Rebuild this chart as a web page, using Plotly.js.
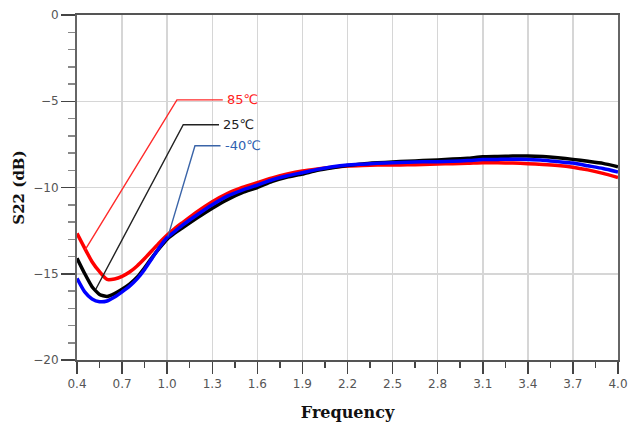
<!DOCTYPE html>
<html>
<head>
<meta charset="utf-8">
<script src="https://cdn.plot.ly/plotly-3.0.1.min.js"></script>
<style>html,body{margin:0;padding:0;background:#fff}#chart{width:632px;height:428px}</style>
</head>
<body>
<div id="chart"></div>
<script>
// Frequency points (GHz)
const freq = [0.40,0.45,0.50,0.55,0.60,0.65,0.70,0.75,0.80,0.85,0.90,0.95,1.00,1.05,1.10,1.20,1.30,1.40,1.50,1.60,1.70,1.80,1.90,2.00,2.10,2.20,2.30,2.40,2.50,2.60,2.70,2.80,2.90,3.00,3.10,3.20,3.30,3.40,3.50,3.60,3.70,3.80,3.90,4.00];
// S22 (dB) per temperature
const s22_85 = [-12.66,-13.50,-14.30,-14.88,-15.33,-15.30,-15.15,-14.90,-14.55,-14.12,-13.65,-13.18,-12.75,-12.38,-12.05,-11.40,-10.82,-10.35,-10.00,-9.72,-9.45,-9.22,-9.04,-8.92,-8.82,-8.75,-8.72,-8.70,-8.70,-8.68,-8.67,-8.64,-8.62,-8.60,-8.56,-8.57,-8.58,-8.62,-8.66,-8.72,-8.82,-8.98,-9.18,-9.42];
const s22_25 = [-14.10,-14.97,-15.75,-16.20,-16.32,-16.15,-15.90,-15.60,-15.20,-14.65,-14.05,-13.50,-13.00,-12.65,-12.35,-11.76,-11.20,-10.70,-10.30,-10.00,-9.65,-9.40,-9.22,-9.00,-8.85,-8.73,-8.63,-8.57,-8.52,-8.48,-8.44,-8.40,-8.35,-8.30,-8.22,-8.20,-8.18,-8.17,-8.20,-8.27,-8.37,-8.48,-8.60,-8.80];
const s22_m40 = [-15.27,-16.04,-16.46,-16.62,-16.58,-16.35,-16.05,-15.72,-15.30,-14.75,-14.10,-13.45,-12.90,-12.55,-12.20,-11.58,-11.00,-10.50,-10.15,-9.86,-9.55,-9.32,-9.14,-8.95,-8.80,-8.70,-8.65,-8.60,-8.56,-8.53,-8.51,-8.50,-8.48,-8.44,-8.38,-8.37,-8.36,-8.38,-8.42,-8.50,-8.58,-8.74,-8.90,-9.10];
const seriesNames = ['85℃','25℃','-40℃'];
const xTicks = [0.4,0.7,1.0,1.3,1.6,1.9,2.2,2.5,2.8,3.1,3.4,3.7,4.0];
const xTickText = ['0.4','0.7','1.0','1.3','1.6','1.9','2.2','2.5','2.8','3.1','3.4','3.7','4.0'];
const yTicks = [0,-5,-10,-15,-20];

const traces = [
  {x:freq, y:s22_85, name:seriesNames[0], mode:'lines', line:{color:'#ff0000', width:3.5, shape:'spline', smoothing:0.5}},
  {x:freq, y:s22_25, name:seriesNames[1], mode:'lines', line:{color:'#000000', width:3.5, shape:'spline', smoothing:0.5}},
  {x:freq, y:s22_m40, name:seriesNames[2], mode:'lines', line:{color:'#0000ff', width:3.5, shape:'spline', smoothing:0.5}}
];

function leader(pts, color){
  const d = 'M ' + pts.map(p => p[0] + ',' + p[1]).join(' L ');
  return {type:'path', xref:'x', yref:'y', path:d, line:{color:color, width:1.4}, layer:'above'};
}

const layout = {
  width:632, height:428,
  margin:{l:77, r:14, t:15, b:68},
  paper_bgcolor:'#ffffff', plot_bgcolor:'#ffffff',
  showlegend:false,
  font:{family:'DejaVu Sans, sans-serif', color:'#555', size:12},
  xaxis:{
    range:[0.4,4.0], tickvals:xTicks, ticktext:xTickText,
    showgrid:true, gridcolor:'#d6d6d6', gridwidth:1.5,
    showline:true, linecolor:'#555', linewidth:2, mirror:true,
    ticks:'outside', ticklen:12, tickwidth:1.5, tickcolor:'#444',
    minor:{dtick:0.3, tick0:0.55, ticks:'outside', ticklen:6, tickwidth:1.5, tickcolor:'#444', showgrid:false},
    tickfont:{family:'DejaVu Sans, sans-serif', size:12, color:'#555'},
    zeroline:false,
    title:{text:'Frequency', font:{family:'DejaVu Serif, serif', size:16, color:'#111', weight:'bold'}, standoff:16}
  },
  yaxis:{
    range:[-20,0], tickvals:yTicks,
    showgrid:true, gridcolor:'#d6d6d6', gridwidth:1.5,
    showline:true, linecolor:'#666', linewidth:2, mirror:true,
    ticks:'outside', ticklen:14, tickwidth:1.5, tickcolor:'#444',
    minor:{dtick:1, ticks:'outside', ticklen:7, tickwidth:1.5, tickcolor:'#888', showgrid:false},
    tickfont:{family:'DejaVu Sans, sans-serif', size:12, color:'#555'},
    zeroline:false,
    title:{text:'S22 (dB)', font:{family:'DejaVu Serif, serif', size:15, color:'#111', weight:'bold'}, standoff:5}
  },
  shapes:[
    leader([[0.455,-13.6],[1.065,-4.92],[1.37,-4.92]], '#ff2a2a'),
    leader([[0.525,-15.9],[1.107,-6.36],[1.345,-6.36]], '#222222'),
    leader([[1.005,-12.85],[1.185,-7.58],[1.355,-7.58]], '#3a64a8')
  ],
  annotations:[
    {x:1.37, y:-4.92, xref:'x', yref:'y', text:seriesNames[0], showarrow:false, xanchor:'left', yanchor:'middle', xshift:2, font:{family:'DejaVu Sans, sans-serif', size:13, color:'#ff2020'}},
    {x:1.345, y:-6.36, xref:'x', yref:'y', text:seriesNames[1], showarrow:false, xanchor:'left', yanchor:'middle', xshift:2, font:{family:'DejaVu Sans, sans-serif', size:13, color:'#222'}},
    {x:1.355, y:-7.58, xref:'x', yref:'y', text:seriesNames[2], showarrow:false, xanchor:'left', yanchor:'middle', xshift:2, font:{family:'DejaVu Sans, sans-serif', size:13, color:'#2f5fb0'}}
  ]
};

Plotly.newPlot('chart', traces, layout, {displayModeBar:false, staticPlot:true});
</script>
</body>
</html>
